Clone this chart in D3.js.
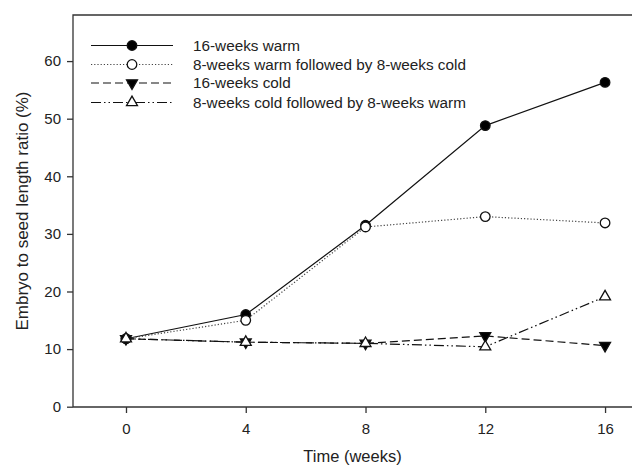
<!DOCTYPE html>
<html>
<head>
<meta charset="utf-8">
<script src="https://cdn.jsdelivr.net/npm/d3@7"></script>
<style>
  body { margin: 0; background: #fff; }
  svg { display: block; }
</style>
</head>
<body>
<div class="svg-container"></div>
<script>
//data
const weeks = [0, 4, 8, 12, 16];
const warm16 = [11.8, 16.0, 31.5, 48.8, 56.3];
const warmCold = [11.8, 15.0, 31.2, 33.0, 31.9];
const cold16 = [11.8, 11.2, 11.0, 12.3, 10.6];
const coldWarm = [11.8, 11.2, 11.0, 10.4, 19.1];
const seriesNames = ['16-weeks warm', '8-weeks warm followed by 8-weeks cold', '16-weeks cold', '8-weeks cold followed by 8-weeks warm'];
const xTicks = [0, 4, 8, 12, 16];
const yTicks = [0, 10, 20, 30, 40, 50, 60];

//required dimensions
const W = 632, H = 472;
const margin = { top: 15, right: 0, bottom: 65, left: 73 };
const font = 'Liberation Sans, Arial, sans-serif';

const series = [
  { name: seriesNames[0], values: warm16, dash: null, symbol: d3.symbolCircle, fill: '#000', size: 72 },
  { name: seriesNames[1], values: warmCold, dash: '1.2,2', symbol: d3.symbolCircle, fill: '#fff', size: 72 },
  { name: seriesNames[2], values: cold16, dash: '8,4', symbol: d3.symbolTriangle, fill: '#000', size: 52, rot: 180 },
  { name: seriesNames[3], values: coldWarm, dash: '10,3,1.5,3,1.5,3', symbol: d3.symbolTriangle, fill: '#fff', size: 52, rot: 0 }
];

const svg = d3.select('.svg-container')
  .append('svg')
  .attr('width', W)
  .attr('height', H);

const x = d3.scaleLinear()
  .domain([-1.77, 16.9])
  .range([margin.left, W - margin.right]);

const y = d3.scaleLinear()
  .domain([0, 68])
  .range([H - margin.bottom - 0.3, margin.top]);

//frame (top and left), x axis
svg.append('path')
  .attr('d', `M${margin.left},${H - margin.bottom}V${margin.top}H${W}`)
  .attr('fill', 'none')
  .attr('stroke', '#333')
  .attr('stroke-width', 1.3);

const xAxis = d3.axisBottom(x).tickValues(xTicks).tickSize(6).tickPadding(10);
svg.append('g')
  .attr('class', 'x-axis')
  .attr('transform', `translate(0, ${H - margin.bottom})`)
  .call(xAxis)
  .call(g => g.select('.domain').attr('d', `M${margin.left},0H${W}`));

const yAxis = d3.axisLeft(y).tickValues(yTicks).tickSize(6).tickPadding(6);
svg.append('g')
  .attr('class', 'y-axis')
  .attr('transform', `translate(${margin.left}, 0)`)
  .call(yAxis)
  .call(g => g.select('.domain').remove());

svg.selectAll('.x-axis line, .y-axis line, .x-axis .domain')
  .attr('stroke', '#333')
  .attr('stroke-width', 1.3);
svg.selectAll('.x-axis text, .y-axis text')
  .attr('fill', '#222')
  .attr('font-family', font)
  .attr('font-size', 15);

//axis titles
svg.append('text')
  .attr('x', (margin.left + W) / 2)
  .attr('y', 462)
  .attr('text-anchor', 'middle')
  .attr('fill', '#222')
  .attr('font-family', font)
  .attr('font-size', 16.5)
  .text('Time (weeks)');

svg.append('text')
  .attr('transform', `translate(28, ${(margin.top + H - margin.bottom) / 2}) rotate(-90)`)
  .attr('text-anchor', 'middle')
  .attr('fill', '#222')
  .attr('font-family', font)
  .attr('font-size', 17)
  .text('Embryo to seed length ratio (%)');

//lines
const line = d3.line()
  .x((d, i) => x(weeks[i]))
  .y(d => y(d));

svg.selectAll('.series-line')
  .data(series)
  .join('path')
  .attr('class', 'series-line')
  .attr('d', d => line(d.values))
  .attr('fill', 'none')
  .attr('stroke', d => d.dash === '1.2,2' ? '#444' : '#111')
  .attr('stroke-width', 1.2)
  .attr('stroke-dasharray', d => d.dash);

//markers
series.forEach((s, k) => {
  svg.selectAll('.mk' + k)
    .data(s.values)
    .join('path')
    .attr('class', 'mk' + k)
    .attr('d', d3.symbol().type(s.symbol).size(s.size))
    .attr('transform', (d, i) => `translate(${x(weeks[i])}, ${y(d)}) rotate(${s.rot || 0})`)
    .attr('fill', s.fill)
    .attr('stroke', '#111')
    .attr('stroke-width', 1.3);
});

//legend
const legendY = [45.5, 64.5, 83, 102.5];
const lg = svg.selectAll('.legend')
  .data(series)
  .join('g')
  .attr('class', 'legend')
  .attr('transform', (d, i) => `translate(0, ${legendY[i]})`);

lg.append('line')
  .attr('x1', 91).attr('x2', 173)
  .attr('stroke', d => d.dash === '1.2,2' ? '#444' : '#111')
  .attr('stroke-width', 1.2)
  .attr('stroke-dasharray', d => d.dash);

lg.append('path')
  .attr('d', d => d3.symbol().type(d.symbol).size(d.size)())
  .attr('transform', d => `translate(132, 0) rotate(${d.rot || 0})`)
  .attr('fill', d => d.fill)
  .attr('stroke', '#111')
  .attr('stroke-width', 1.3);

lg.append('text')
  .attr('x', 193)
  .attr('dy', '0.35em')
  .attr('fill', '#222')
  .attr('font-family', font)
  .attr('font-size', 15.3)
  .text(d => d.name);
</script>
</body>
</html>
